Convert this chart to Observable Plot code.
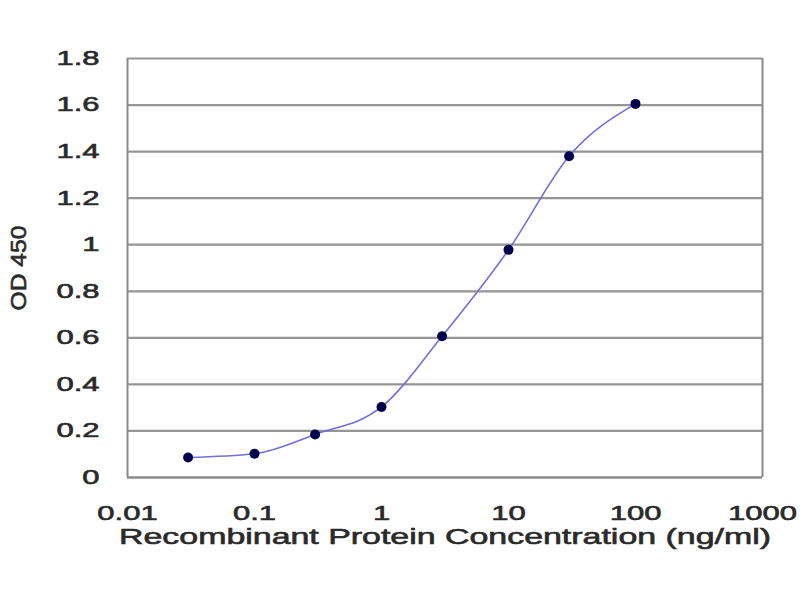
<!DOCTYPE html>
<html><head><meta charset="utf-8">
<script src="https://cdn.jsdelivr.net/npm/d3@7"></script>
<script src="https://cdn.jsdelivr.net/npm/@observablehq/plot@0.6"></script>
<style>body{margin:0;background:#fff}</style>
</head><body><div id="chart"></div>
<script>
const concentrations = [0.03, 0.1, 0.3, 1, 3, 10, 30, 100];
const od450 = [0.086, 0.102, 0.185, 0.303, 0.607, 0.978, 1.38, 1.605];
const yTicks = [0, 0.2, 0.4, 0.6, 0.8, 1, 1.2, 1.4, 1.6, 1.8];
const yTickLabels = ["0", "0.2", "0.4", "0.6", "0.8", "1", "1.2", "1.4", "1.6", "1.8"];
const xTicks = [0.01, 0.1, 1, 10, 100, 1000];
const xTickLabels = ["0.01", "0.1", "1", "10", "100", "1000"];
const xLabel = "Recombinant Protein Concentration (ng/ml)";
const yLabel = "OD 450";

const data = concentrations.map((c, i) => ({c, od: od450[i]}));

const chart = Plot.plot({
  width: 800, height: 600,
  marginLeft: 127, marginRight: 38, marginTop: 58, marginBottom: 123,
  style: {fontFamily: "'Liberation Sans', Arial, sans-serif", fontSize: "20px", color: "#2a2a2a", background: "#fff"},
  x: {type: "log", domain: [0.01, 1000]},
  y: {domain: [0, 1.8]},
  marks: [
    Plot.gridY(yTicks, {stroke: "#959595", strokeOpacity: 1, strokeWidth: 2.2}),
    Plot.ruleX([0.01, 1000], {stroke: "#8a8a8a", strokeWidth: 2}),
    Plot.ruleY([0], {stroke: "#8a8a8a", strokeWidth: 2}),
    Plot.axisY(yTicks, {tickSize: 0, tickPadding: 28, label: null, tickFormat: d => yTickLabels[yTicks.indexOf(d)]}),
    Plot.axisX(xTicks, {tickSize: 0, tickPadding: 28, label: null, tickFormat: d => xTickLabels[xTicks.indexOf(d)]}),
    Plot.line(data, {x: "c", y: "od", curve: "monotone-x", stroke: "#7070d8", strokeWidth: 1.6}),
    Plot.dot(data, {x: "c", y: "od", r: 5, fill: "#00004d", stroke: "none"}),
    Plot.text([xLabel], {frameAnchor: "bottom", lineAnchor: "middle", textAnchor: "middle", dy: 59, fontSize: 22, fill: "#2a2a2a"}),
    Plot.text([yLabel], {frameAnchor: "left", lineAnchor: "middle", textAnchor: "middle", dx: -109, rotate: -90, fontSize: 22, fill: "#2a2a2a"})
  ]
});
document.getElementById("chart").appendChild(chart);

// stretch glyphs horizontally and thicken slightly, as in the reference image
d3.select(chart).selectAll("text").each(function() {
  const t = this.textContent;
  const len = this.getComputedTextLength();
  let target = len * 1.55;
  if (t === xLabel) target = 652;
  if (t === yLabel) target = 85;
  this.setAttribute("textLength", target);
  this.setAttribute("lengthAdjust", "spacingAndGlyphs");
  this.style.stroke = "#2a2a2a";
  this.style.strokeWidth = "0.6px";
});
</script>
</body></html>
